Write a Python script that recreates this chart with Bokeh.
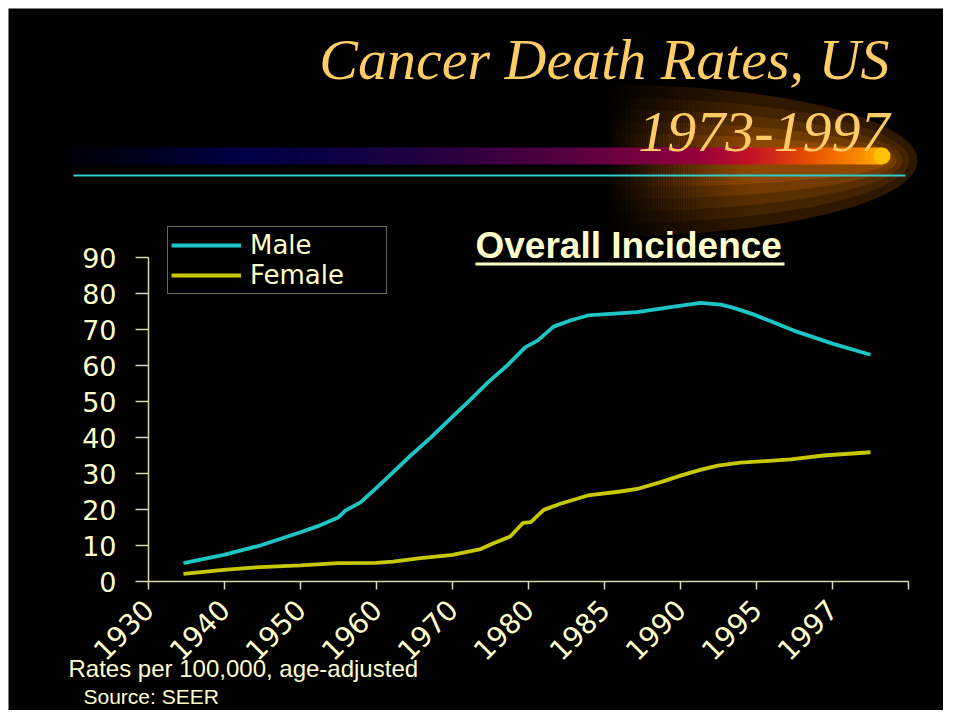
import math
import numpy as np
from bokeh.plotting import figure
from bokeh.models import (LinearAxis, FixedTicker, SingleIntervalTicker, Label,
                          Legend, LegendItem, Range1d, ColumnDataSource)
from bokeh.embed import file_html
from bokeh.resources import INLINE

# ---------------- data ----------------
year_labels = ["1930", "1940", "1950", "1960", "1970", "1980", "1985", "1990", "1995", "1997"]

male_pos = [0.46, 0.99, 1.47, 2.00, 2.22, 2.49, 2.59, 2.79, 3.01, 3.22, 3.45, 3.71, 3.97,
            4.24, 4.47, 4.72, 4.96, 5.12, 5.33, 5.55, 5.78, 6.43, 6.87, 7.26, 7.53, 7.70,
            7.96, 8.22, 8.49, 9.01, 9.50]
male_rate = [5.1, 7.4, 10.0, 13.7, 15.3, 17.7, 19.7, 22.0, 26.2, 30.4, 35.0, 39.9, 45.2,
             50.6, 55.4, 60.0, 65.1, 66.9, 70.8, 72.5, 73.9, 74.8, 76.2, 77.4, 76.9, 76.0,
             74.2, 72.0, 69.7, 66.0, 63.0]

female_pos = [0.46, 0.99, 1.47, 2.00, 2.49, 2.99, 3.22, 3.58, 4.00, 4.37, 4.54, 4.76, 4.93,
              5.03, 5.20, 5.42, 5.78, 6.21, 6.43, 6.74, 7.00, 7.26, 7.49, 7.79, 8.45, 8.88, 9.50]
female_rate = [2.1, 3.2, 4.0, 4.5, 5.1, 5.2, 5.5, 6.5, 7.4, 9.0, 10.6, 12.5, 16.3,
               16.5, 19.9, 21.6, 23.9, 25.0, 25.7, 27.6, 29.4, 31.0, 32.2, 33.0, 33.9, 35.0, 35.9]

# ---------------- layout helpers (screen pixels -> data) ----------------
W, H = 943, 710
M = 8                   # white margin at top / left
X0, XS = 148.0, 76.0    # screen x of category 0, pixels per category
Y0, YS = 581.0, 3.6     # screen y of rate 0, pixels per rate unit


def dx(sx):
    return (sx - X0) / XS


def dy(sy):
    return (Y0 - sy) / YS


def base(sy, size):
    # label anchor that puts the alphabetic baseline at screen y = sy
    return dy(sy - 0.34 * size)


CREAM = "#FFFFCC"
AXIS_COL = "#D8D8B0"

p = figure(width=W, height=H, output_backend="svg", toolbar_location=None,
           x_axis_type=None, y_axis_type=None,
           x_range=Range1d(dx(M), dx(W)), y_range=Range1d(dy(H), dy(M)),
           background_fill_color="black", border_fill_color="white",
           min_border=0, min_border_left=M, min_border_top=M,
           outline_line_color=None)

# ---------------- decorative glow ----------------
gcx, gcy = 605.0, 160.0
layers = [(312, 76, "#2E1800"), (304, 63, "#442300"), (297, 51, "#5A2F00"),
          (291, 39, "#723B00"), (286, 27, "#8C4800")]
t = np.linspace(-np.pi / 2, np.pi / 2, 90)
gx, gy, gc = [], [], []
for rx, ry, col in layers:
    gx.append([dx(v) for v in gcx + rx * np.cos(t)])
    gy.append([dy(v) for v in gcy + ry * np.sin(t)])
    gc.append(col)
p.patches(xs=gx, ys=gy, fill_color=gc, line_color=None)

# left fade of the glow
nf = 60
fx = np.linspace(gcx - 1, gcx + 150, nf + 1)
fade_alpha = [float((1 - (i + 0.5) / nf) ** 1.4) for i in range(nf)]
p.quad(left=[dx(v) for v in fx[:-1]], right=[dx(v + 0.5) for v in fx[1:]],
       top=[dy(gcy - 80)] * nf, bottom=[dy(gcy + 80)] * nf,
       fill_color="black", fill_alpha=fade_alpha, line_color=None)

# ---------------- gradient bar ----------------
stops_x = [68, 148, 238, 348, 468, 568, 638, 698, 753, 808, 853, 890]
stops_c = [(0, 0, 8), (0, 0, 32), (0, 0, 72), (16, 0, 68), (48, 0, 64), (88, 0, 64),
           (120, 0, 64), (150, 0, 60), (200, 20, 40), (230, 80, 0), (250, 130, 0), (255, 190, 0)]
nb = 200
bx = np.linspace(68, 881.5, nb + 1)
mid = (bx[:-1] + bx[1:]) / 2
cols = []
for m in mid:
    r = np.interp(m, stops_x, [c[0] for c in stops_c])
    g = np.interp(m, stops_x, [c[1] for c in stops_c])
    b = np.interp(m, stops_x, [c[2] for c in stops_c])
    cols.append("#%02x%02x%02x" % (int(r), int(g), int(b)))
p.quad(left=[dx(v) for v in bx[:-1]], right=[dx(v + 0.6) for v in bx[1:]],
       top=[dy(147)] * nb, bottom=[dy(164)] * nb, fill_color=cols, line_color=None)
p.scatter(x=[dx(881.5)], y=[dy(155.5)], size=17, marker="circle",
          fill_color="#FFC000", line_color=None)

# cyan rule
p.line(x=[dx(73), dx(905)], y=[dy(175), dy(175)], line_color="#33CCCC", line_width=2)

# ---------------- title ----------------
for txt, bl in [("Cancer Death Rates, US", 79), ("1973-1997", 151)]:
    p.add_layout(Label(x=dx(889), y=base(bl, 58), text=txt, text_align="right",
                       text_baseline="alphabetic", text_font="Liberation Serif",
                       text_font_style="italic", text_font_size="58px",
                       text_color="#FFCC66"))

# ---------------- data lines ----------------
src_m = ColumnDataSource(dict(x=male_pos, y=male_rate))
src_f = ColumnDataSource(dict(x=female_pos, y=female_rate))
rm = p.line("x", "y", source=src_m, line_color="#1FC4C4", line_width=3.8)
rf = p.line("x", "y", source=src_f, line_color="#C8C800", line_width=3.8)

# ---------------- axes ----------------
yax = LinearAxis(fixed_location=0, bounds=(0, 90),
                 ticker=SingleIntervalTicker(interval=10),
                 axis_line_color=AXIS_COL, axis_line_width=1.5,
                 major_tick_line_color=AXIS_COL, major_tick_line_width=1.5,
                 major_tick_out=13, major_tick_in=0, minor_tick_line_color=None,
                 major_label_standoff=19,
                 major_label_text_color=CREAM, major_label_text_font="DejaVu Sans",
                 major_label_text_font_size="27px")
p.add_layout(yax, "left")

overrides = {i: lab for i, lab in enumerate(year_labels)}
overrides[len(year_labels)] = ""
xax = LinearAxis(fixed_location=0, bounds=(0, len(year_labels)),
                 ticker=FixedTicker(ticks=list(range(len(year_labels) + 1))),
                 major_label_overrides=overrides,
                 major_label_orientation=math.pi / 4,
                 axis_line_color=AXIS_COL, axis_line_width=1.5,
                 major_tick_line_color=AXIS_COL, major_tick_line_width=1.5,
                 major_tick_out=8, major_tick_in=0, minor_tick_line_color=None,
                 major_label_standoff=15,
                 major_label_text_color=CREAM, major_label_text_font="DejaVu Sans",
                 major_label_text_font_size="28px")
p.add_layout(xax, "below")

# ---------------- legend ----------------
legend = Legend(items=[LegendItem(label="Male", renderers=[rm]),
                       LegendItem(label="Female", renderers=[rf])],
                location=(167 - M, H - 294), orientation="vertical",
                border_line_color="#CCCC99", border_line_width=1.5,
                background_fill_color="black", background_fill_alpha=1.0,
                label_text_color=CREAM, label_text_font="DejaVu Sans",
                label_text_font_size="26px", glyph_width=70, glyph_height=20,
                label_standoff=9, label_width=133, padding=3, spacing=0, margin=0)
p.add_layout(legend)

# ---------------- subtitle ----------------
p.add_layout(Label(x=dx(475), y=base(258, 37), text="Overall Incidence", text_align="left",
                   text_baseline="alphabetic", text_font="Liberation Sans",
                   text_font_style="bold", text_font_size="37px", text_color=CREAM))
p.line(x=[dx(475), dx(784)], y=[dy(263.5), dy(263.5)], line_color=CREAM, line_width=3)

# ---------------- notes ----------------
p.add_layout(Label(x=dx(68), y=base(676, 24), text="Rates per 100,000, age-adjusted",
                   text_align="left", text_baseline="alphabetic",
                   text_font="Liberation Sans", text_font_size="24px", text_color=CREAM))
p.add_layout(Label(x=dx(83), y=base(703, 21), text="Source: SEER",
                   text_align="left", text_baseline="alphabetic",
                   text_font="Liberation Sans", text_font_size="21px", text_color=CREAM))

open("out.html", "w").write(file_html(p, INLINE))
